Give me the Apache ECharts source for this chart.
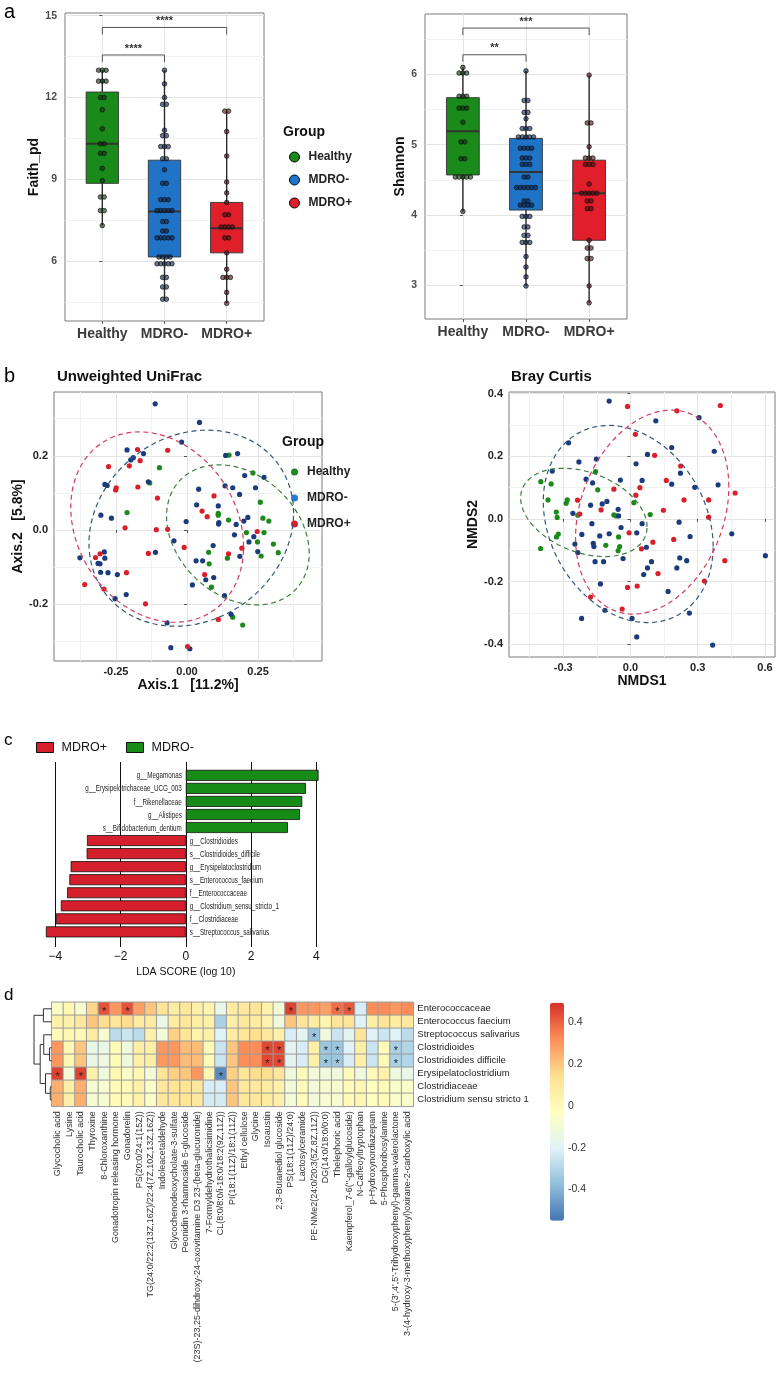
<!DOCTYPE html>
<html><head><meta charset="utf-8">
<script src="https://cdn.jsdelivr.net/npm/echarts@6/dist/echarts.min.js"></script>
<style>html,body{margin:0;padding:0;background:#fff}#c{width:780px;height:1400px}</style>
</head><body><div id="c"></div>
<script>
const SANS = "'Liberation Sans', Arial, Helvetica, sans-serif";

// ---------- panel a ----------
const groups = ['Healthy', 'MDRO-', 'MDRO+'];
const faithHealthy = [13.0,13.0,13.0,12.6,12.6,12.6,12.0,12.0,11.55,10.85,10.3,10.3,9.95,9.95,9.4,8.95,8.35,8.35,7.85,7.85,7.3];
const faithNeg = [13.0,12.5,12.0,11.75,11.75,10.8,10.6,10.6,10.2,10.2,10.2,9.75,9.75,9.35,8.85,8.85,8.25,8.25,8.25,7.85,7.85,7.85,7.85,7.85,7.45,7.45,7.1,7.1,6.85,6.85,6.85,6.85,6.85,6.15,6.15,6.15,6.15,5.9,5.9,5.9,5.9,5.9,5.4,5.4,5.05,5.05,4.6,4.6];
const faithPos = [11.5,11.5,10.75,9.85,8.9,8.5,8.15,7.7,7.7,7.25,7.25,7.25,7.25,6.85,6.85,6.3,5.7,5.4,5.4,5.4,4.85,4.45];
// [min, Q1, median, Q3, max]
const faithBox = [[7.3,8.85,10.3,12.2,13.0],[4.6,6.15,7.82,9.7,13.0],[4.45,6.3,7.2,8.15,11.5]];
const faithSig = [[0,1,13.56],[0,2,14.57]];
const faithSigText = ['****','****'];
const faithTicks = [6,9,12,15];
const faithMinor = [4.5,7.5,10.5,13.5];

const shanHealthy = [6.1,6.02,6.02,6.02,5.69,5.69,5.69,5.52,5.52,5.52,5.32,5.04,5.04,4.8,4.8,4.54,4.54,4.54,4.54,4.54,4.05];
const shanNeg = [6.05,5.63,5.63,5.46,5.46,5.37,5.23,5.23,5.23,5.11,5.11,5.11,5.11,5.11,4.95,4.95,4.95,4.95,4.81,4.81,4.81,4.72,4.72,4.72,4.54,4.54,4.39,4.39,4.39,4.39,4.39,4.39,4.2,4.2,4.14,4.14,4.14,4.14,3.98,3.98,3.98,3.83,3.83,3.71,3.71,3.61,3.61,3.61,3.41,3.26,3.12,2.99];
const shanPos = [5.99,5.31,5.31,4.97,4.81,4.81,4.81,4.72,4.72,4.72,4.44,4.31,4.31,4.31,4.31,4.31,4.2,4.2,4.09,4.09,3.64,3.53,3.53,3.38,3.38,2.99,2.75];
const shanBox = [[4.05,4.57,5.19,5.67,6.1],[2.99,4.07,4.61,5.09,6.05],[2.75,3.64,4.31,4.78,5.99]];
const shanSig = [[0,1,6.28],[0,2,6.66]];
const shanSigText = ['**','***'];
const shanTicks = [3,4,5,6];
const shanMinor = [2.5,3.5,4.5,5.5,6.5];

// ---------- panel b ----------
const uniHealthy = [[-0.097,0.168],[0.148,0.202],[0.232,0.154],[-0.131,0.127],[0.258,0.075],[0.110,0.045],[0.110,0.040],[-0.211,0.047],[0.146,0.027],[0.267,0.032],[0.288,0.024],[0.209,-0.007],[0.271,-0.007],[0.248,-0.032],[0.304,-0.038],[0.321,-0.061],[0.076,-0.060],[0.261,-0.070],[0.142,-0.076],[0.078,-0.091],[0.086,-0.154],[0.161,-0.235],[0.196,-0.256]];
const uniNeg = [[-0.112,0.340],[0.044,0.290],[-0.019,0.237],[-0.211,0.216],[-0.153,0.206],[-0.189,0.195],[-0.198,0.189],[0.136,0.201],[0.178,0.206],[0.203,0.147],[0.271,0.142],[-0.136,0.130],[-0.289,0.123],[-0.281,0.120],[0.041,0.110],[0.134,0.119],[0.161,0.114],[0.185,0.096],[0.241,0.114],[0.034,0.068],[0.110,0.065],[-0.303,0.040],[-0.266,0.032],[0.112,0.020],[0.111,0.016],[0.214,0.034],[0.200,0.024],[-0.003,0.023],[0.173,0.015],[0.167,-0.013],[0.235,-0.018],[-0.046,-0.029],[0.218,-0.032],[0.092,-0.042],[0.249,-0.058],[0.186,-0.071],[0.032,-0.083],[0.055,-0.083],[-0.111,-0.060],[-0.377,-0.075],[-0.291,-0.059],[-0.289,-0.076],[-0.313,-0.090],[-0.306,-0.091],[-0.304,-0.114],[-0.278,-0.115],[-0.245,-0.120],[0.066,-0.134],[0.094,-0.128],[0.019,-0.148],[-0.214,-0.174],[-0.253,-0.185],[0.132,-0.177],[0.155,-0.227],[-0.070,-0.250],[-0.057,-0.317],[0.010,-0.320]];
const uniPos = [[-0.068,0.215],[-0.174,0.217],[-0.165,0.187],[-0.203,0.173],[-0.276,0.171],[-0.249,0.114],[-0.251,0.108],[-0.173,0.116],[-0.104,0.086],[0.095,0.092],[0.053,0.051],[0.071,0.036],[-0.218,0.006],[-0.108,0.001],[-0.068,0.002],[0.247,-0.004],[-0.010,-0.047],[0.193,-0.049],[0.146,-0.064],[-0.136,-0.063],[-0.322,-0.074],[-0.306,-0.064],[-0.213,-0.115],[0.062,-0.120],[-0.360,-0.147],[-0.292,-0.159],[-0.146,-0.199],[0.110,-0.241],[0.002,-0.314]];
// ellipse: centre, conjugate semi-axis u, conjugate semi-axis v (Healthy, MDRO-, MDRO+)
const uniEllipses = [[0.179,-0.013,0.251,-0.050,0,0.182],[0.015,0.005,0.360,0.041,0,0.261],[-0.105,0.008,0.304,-0.053,0,0.251]];
const uniXTicks = [-0.25,0,0.25], uniYTicks = [-0.2,0,0.2];
const uniXMinor = [-0.375,-0.125,0.125,0.375], uniYMinor = [-0.3,-0.1,0.1,0.3];

const brayHealthy = [[-0.156,0.151],[-0.400,0.119],[-0.354,0.112],[-0.146,0.093],[-0.368,0.061],[-0.282,0.061],[-0.287,0.050],[0.015,0.052],[-0.331,0.022],[-0.327,0.005],[-0.235,0.012],[-0.074,0.013],[-0.065,0.010],[0.088,0.014],[-0.322,-0.048],[-0.330,-0.057],[-0.053,-0.057],[-0.401,-0.094],[-0.110,-0.084],[-0.048,-0.088],[-0.055,-0.101]];
const brayNeg = [[-0.095,0.376],[0.306,0.323],[0.113,0.313],[-0.276,0.243],[0.184,0.228],[0.374,0.216],[0.076,0.206],[-0.152,0.191],[-0.230,0.182],[0.025,0.176],[-0.349,0.153],[0.223,0.146],[-0.198,0.127],[-0.169,0.115],[-0.045,0.124],[0.052,0.123],[0.184,0.111],[0.287,0.101],[0.391,0.109],[-0.105,0.056],[-0.126,0.048],[-0.178,0.044],[-0.055,0.031],[-0.257,0.018],[-0.053,0.010],[-0.172,-0.015],[0.217,-0.010],[-0.042,-0.027],[0.052,-0.015],[-0.217,-0.049],[-0.137,-0.054],[-0.095,-0.047],[0.028,-0.044],[0.266,-0.056],[0.452,-0.047],[-0.248,-0.080],[-0.163,-0.088],[-0.166,-0.078],[0.071,-0.090],[-0.235,-0.107],[-0.033,-0.126],[-0.158,-0.136],[-0.120,-0.136],[0.094,-0.136],[0.220,-0.124],[0.251,-0.133],[0.602,-0.117],[0.076,-0.156],[0.059,-0.177],[0.207,-0.156],[-0.134,-0.207],[0.168,-0.231],[-0.114,-0.291],[0.263,-0.300],[-0.218,-0.317],[0.007,-0.317],[0.028,-0.376],[0.367,-0.402]];
const brayPos = [[-0.013,0.359],[0.207,0.345],[0.401,0.362],[0.022,0.270],[0.108,0.203],[0.224,0.169],[0.160,0.123],[-0.074,0.095],[0.042,0.100],[0.024,0.076],[0.467,0.083],[-0.236,0.060],[0.239,0.061],[0.349,0.061],[0.147,0.028],[-0.226,0.016],[-0.131,0.029],[0.349,0.006],[-0.006,-0.044],[0.193,-0.065],[0.100,-0.074],[0.049,-0.095],[0.421,-0.133],[0.123,-0.174],[0.330,-0.198],[-0.013,-0.218],[0.030,-0.214],[-0.178,-0.249],[-0.037,-0.287]];
const brayEllipses = [[-0.208,0.021,0.282,-0.046,0,0.133],[-0.010,-0.016,0.379,-0.072,0,0.306],[0.097,0.022,0.342,0.081,0,0.315]];
const brayXTicks = [-0.3,0,0.3,0.6], brayYTicks = [-0.4,-0.2,0,0.2,0.4];
const brayXMinor = [-0.45,-0.15,0.15,0.45], brayYMinor = [-0.3,-0.1,0.1,0.3];

// ---------- panel c ----------
const ldaTaxa = ['g__Megamonas','g__Erysipelotrichaceae_UCG_003','f__Rikenellaceae','g__Alistipes','s__Bifidobacterium_dentium','g__Clostridioides','s__Clostridioides_difficile','g__Erysipelatoclostridium','s__Enterococcus_faecium','f__Enterococcaceae','g__Clostridium_sensu_stricto_1','f__Clostridiaceae','s__Streptococcus_salivarius'];
const ldaScores = [4.07,3.68,3.57,3.50,3.13,-3.03,-3.04,-3.53,-3.57,-3.64,-3.83,-3.98,-4.29];
const ldaTicks = [-4,-2,0,2,4];

// ---------- panel d ----------
const metabolites = ['Glycocholic acid','Lysine','Taurocholic acid','Thyroxine','8-Chloroxanthine','Gonadotropin releasing hormone','Gonadorelin','PS(20:0/24:1(15Z))','TG(24:0/22:2(13Z,16Z)/22:4(7Z,10Z,13Z,16Z))','Indoleacetaldehyde','Glycochenodeoxycholate-3-sulfate','Peonidin 3-rhamnoside 5-glucoside','(23S)-23,25-dihdroxy-24-oxovitamine D3 23-(beta-glucuronide)','7-Formyldehydrothalicsimidine','CL(8:0/8:0/i-18:0/18:2(9Z,11Z))','PI(18:1(11Z)/18:1(11Z))','Ethyl cellulose','Glycine','Isoaustin','2,3-Butanediol glucoside','PS(18:1(11Z)/24:0)','Lactosylceramide','PE-NMe2(24:0/20:3(5Z,8Z,11Z))','DG(14:0/18:0/0:0)','Thelephoric acid',"Kaempferol_7-6(''-galloylglucoside)",'N-Caffeoyltryptophan','p-Hydroxynordiazepam','5-Phosphoribosylamine',"5-(3',4',5'-Trihydroxyphenyl)-gamma-valerolactone",'3-(4-hydroxy-3-methoxyphenyl)oxirane-2-carboxylic acid'];
const taxa = ['Enterococcaceae','Enterococcus faecium','Streptococcus salivarius','Clostridioides','Clostridioides difficile','Erysipelatoclostridium','Clostridiaceae','Clostridium sensu stricto 1'];
const corEnterococcaceae = [-0.05,0.02,-0.08,0.17,0.43,0.3,0.43,0.28,0.2,0.12,0.08,0.1,0.06,0.04,-0.15,0.08,0.1,0.12,0.05,-0.1,0.46,0.3,0.3,0.28,0.38,0.42,-0.22,0.32,0.32,0.3,0.32];
const corEfaecium = [0.05,0.05,0.1,0.2,0.15,0.12,0.15,0.08,0.08,-0.15,0.08,0.1,0.06,0.05,-0.32,0.06,0.1,0.08,0.04,-0.12,0.2,0.12,0.08,0.03,0.12,0.12,-0.2,0.06,0.12,0.08,0.1];
const corSsalivarius = [0.0,0.02,0.0,0.08,-0.08,-0.28,-0.25,-0.28,0.05,-0.1,0.18,0.12,0.04,0.06,-0.2,0.08,0.12,0.15,0.1,0.05,-0.22,-0.18,-0.36,-0.12,-0.25,-0.18,0.12,-0.2,-0.25,-0.2,-0.28];
const corClostridioides = [0.3,0.02,0.2,-0.15,-0.15,0.0,-0.12,0.06,0.06,0.3,0.3,0.22,0.22,0.0,-0.25,0.2,0.32,0.32,0.45,0.45,-0.18,-0.22,0.05,-0.35,-0.35,-0.2,0.06,-0.25,0.0,-0.32,-0.3];
const corCdifficile = [0.3,0.02,0.2,-0.14,-0.13,0.0,-0.12,0.05,0.06,0.3,0.3,0.22,0.22,0.0,-0.25,0.2,0.32,0.32,0.45,0.45,-0.18,-0.22,0.05,-0.35,-0.35,-0.22,0.05,-0.25,0.0,-0.32,-0.3];
const corErysipelato = [0.46,-0.1,0.46,0.05,-0.12,0.02,-0.05,0.02,-0.1,0.12,0.18,0.2,0.3,0.02,-0.5,0.18,0.12,0.15,0.15,0.12,-0.12,0.0,-0.1,-0.12,-0.12,0.0,-0.12,0.0,0.05,-0.12,-0.15];
const corClostridiaceae = [0.25,0.06,0.25,-0.08,-0.08,0.0,0.0,0.05,-0.05,0.1,0.12,0.12,0.1,-0.22,-0.22,0.2,0.1,0.1,0.08,0.05,-0.1,0.0,-0.1,-0.08,-0.08,0.0,0.02,-0.03,0.0,-0.06,-0.06];
const corCsensu = [0.25,0.06,0.25,-0.08,-0.08,0.0,0.0,0.05,-0.05,0.1,0.12,0.12,0.1,-0.23,-0.23,0.2,0.1,0.1,0.08,0.05,-0.1,0.0,-0.1,-0.08,-0.08,0.0,0.02,-0.03,0.0,-0.06,-0.06];
const sigCells = [[0,4],[0,6],[0,20],[0,24],[0,25],[2,22],[3,18],[3,19],[3,23],[3,24],[3,29],[4,18],[4,19],[4,23],[4,24],[4,29],[5,0],[5,2],[5,14]];
// dendrogram merges (node ids: leaves 0-7, merges 8+)
const dendroA = [3,6,5,2,11,0,13];
const dendroB = [4,7,9,8,10,1,12];
const dendroH = [0.12,0.08,0.35,0.45,0.65,0.47,1.0];
const colorTicks = [-0.4,-0.2,0,0.2,0.4];

// ---------- styles ----------
const boxFill = ['#1a8a1a','#1f74c8','#e11f2b'];
const dotFill = ['rgba(8,45,8,0.6)','rgba(8,28,70,0.6)','rgba(70,8,12,0.6)'];
const bPoint = ['#1b8a1b','#1b3c7c','#db1f2a'];
const ellipseCol = ['#3c7f3c','#34567e','#cf3c5c'];
const heatColors = ['#4575B4','#91BFDB','#E0F3F8','#FFFFBF','#FEE090','#FC8D59','#D73027'];

function dodge(values, gi, step) {
  const counts = {}, seen = {};
  values.forEach(v => counts[v] = (counts[v] || 0) + 1);
  return values.map(v => {
    const k = counts[v];
    const i = seen[v] = (seen[v] === undefined ? 0 : seen[v] + 1);
    return [gi + (i - (k - 1) / 2) * step, v];
  });
}

function boxRender(params, api) {
  const x = api.value(0);
  const pMin = api.coord([x, api.value(1)]), pQ1 = api.coord([x, api.value(2)]),
        pMed = api.coord([x, api.value(3)]), pQ3 = api.coord([x, api.value(4)]),
        pMax = api.coord([x, api.value(5)]);
  const hw = api.size([0.52, 0])[0] / 2;
  return {type: 'group', children: [
    {type: 'line', shape: {x1: pMin[0], y1: pMin[1], x2: pQ1[0], y2: pQ1[1]}, style: {stroke: '#2b2b2b', lineWidth: 1.4}},
    {type: 'line', shape: {x1: pQ3[0], y1: pQ3[1], x2: pMax[0], y2: pMax[1]}, style: {stroke: '#2b2b2b', lineWidth: 1.4}},
    {type: 'rect', shape: {x: pQ3[0] - hw, y: pQ3[1], width: 2 * hw, height: pQ1[1] - pQ3[1]}, style: {fill: boxFill[params.dataIndex], stroke: '#333', lineWidth: 0.9}},
    {type: 'line', shape: {x1: pMed[0] - hw, y1: pMed[1], x2: pMed[0] + hw, y2: pMed[1]}, style: {stroke: '#333', lineWidth: 2}}
  ]};
}
function sigRender(texts) {
  return function (params, api) {
    const y = api.value(2);
    const p1 = api.coord([api.value(0), y]), p2 = api.coord([api.value(1), y]);
    return {type: 'group', children: [
      {type: 'polyline', shape: {points: [[p1[0], p1[1] + 7], [p1[0], p1[1]], [p2[0], p2[1]], [p2[0], p2[1] + 7]]}, style: {stroke: '#555', lineWidth: 1, fill: 'none'}},
      {type: 'text', style: {text: texts[params.dataIndex], x: (p1[0] + p2[0]) / 2, y: p1[1] - 1, align: 'center', verticalAlign: 'bottom', font: 'bold 11px ' + SANS, fill: '#333'}}
    ]};
  };
}
function ellipseRender(params, api) {
  const cx = api.value(0), cy = api.value(1), ux = api.value(2), uy = api.value(3), vx = api.value(4), vy = api.value(5);
  const pts = [];
  for (let k = 0; k <= 120; k++) {
    const t = k / 120 * 2 * Math.PI;
    pts.push(api.coord([cx + ux * Math.cos(t) + vx * Math.sin(t), cy + uy * Math.cos(t) + vy * Math.sin(t)]));
  }
  return {type: 'polyline', shape: {points: pts}, style: {stroke: ellipseCol[params.dataIndex], fill: 'none', lineWidth: 1.2, lineDash: [5, 3.5]}};
}
function ldaLabelRender(params, api) {
  const v = api.value(0);
  const p = api.coord([0, api.value(1)]);
  const pos = v > 0;
  return {type: 'text', x: p[0] + (pos ? -4 : 4), y: p[1] + 0.5, scaleX: 0.66,
    style: {text: ldaTaxa[params.dataIndex], x: 0, y: 0, align: pos ? 'right' : 'left', verticalAlign: 'middle', font: '9.5px ' + SANS, fill: '#222'}};
}

// dendrogram segments
const nodeY = taxa.map((t, i) => i), nodeH = taxa.map(() => 0);
const dendroSegs = dendroA.map((a, i) => {
  const b = dendroB[i], id = taxa.length + i;
  nodeY[id] = (nodeY[a] + nodeY[b]) / 2; nodeH[id] = dendroH[i];
  return [nodeH[a], nodeY[a], dendroH[i], nodeH[b], nodeY[b]];
});

const corRows = [corEnterococcaceae, corEfaecium, corSsalivarius, corClostridioides, corCdifficile, corErysipelato, corClostridiaceae, corCsensu];
const heatData = [];
corRows.forEach((row, r) => row.forEach((v, c) => heatData.push([c, r, v])));
const sigSet = new Set(sigCells.map(s => s[0] + '-' + s[1]));

const gridLine = {show: true, lineStyle: {color: '#e4e4e4', width: 1}};
const minorLine = {show: true, lineStyle: {color: '#f1f1f1', width: 1}};
const tickLbl = {fontSize: 10.5, fontWeight: 'bold', color: '#4d4d4d'};
const bLbl = {fontSize: 11, fontWeight: 'bold', color: '#222'};
const axTitle = {fontSize: 14, fontWeight: 'bold', color: '#111'};

function minorAxis(grid, min, max, vals, pos) {
  return {gridIndex: grid, type: 'value', min: min, max: max, position: pos,
    axisLine: {show: false}, axisTick: {show: false, customValues: vals},
    axisLabel: {show: false, customValues: vals}, splitLine: minorLine};
}
function hiddenAxis(grid, o) {
  return Object.assign({gridIndex: grid, type: 'value', show: false}, o);
}

const xAxis = [
  {gridIndex: 0, type: 'value', min: -0.6, max: 2.6, axisLine: {show: false},
   axisTick: {show: true, length: 3, lineStyle: {color: '#555'}, customValues: [0, 1, 2]},
   axisLabel: {customValues: [0, 1, 2], formatter: v => groups[Math.round(v)], fontSize: 14, fontWeight: 'bold', color: '#3a3a3a', margin: 6},
   splitLine: gridLine},
  {gridIndex: 1, type: 'value', min: -0.6, max: 2.6, axisLine: {show: false},
   axisTick: {show: true, length: 3, lineStyle: {color: '#555'}, customValues: [0, 1, 2]},
   axisLabel: {customValues: [0, 1, 2], formatter: v => groups[Math.round(v)], fontSize: 14, fontWeight: 'bold', color: '#3a3a3a', margin: 6},
   splitLine: gridLine},
  {gridIndex: 2, type: 'value', min: -0.468, max: 0.475, axisLine: {show: false},
   axisTick: {show: true, length: 3, lineStyle: {color: '#555'}, customValues: uniXTicks},
   axisLabel: Object.assign({customValues: uniXTicks, formatter: v => v.toFixed(2), margin: 5}, bLbl),
   splitLine: gridLine, name: 'Axis.1   [11.2%]', nameLocation: 'middle', nameGap: 12, nameTextStyle: axTitle},
  minorAxis(2, -0.468, 0.475, uniXMinor, 'top'),
  {gridIndex: 3, type: 'value', min: -0.542, max: 0.645, axisLine: {show: false},
   axisTick: {show: true, length: 3, lineStyle: {color: '#555'}, customValues: brayXTicks},
   axisLabel: Object.assign({customValues: brayXTicks, formatter: v => v.toFixed(1), margin: 5}, bLbl),
   splitLine: gridLine, name: 'NMDS1', nameLocation: 'middle', nameGap: 12, nameTextStyle: axTitle},
  minorAxis(3, -0.542, 0.645, brayXMinor, 'top'),
  {gridIndex: 4, type: 'value', min: -4.5, max: 4.5, axisLine: {show: false}, axisTick: {show: false, customValues: ldaTicks},
   axisLabel: {customValues: ldaTicks, formatter: v => v < 0 ? '\u2212' + (-v) : String(v), fontSize: 12, color: '#111', margin: 4},
   splitLine: {show: true, lineStyle: {color: '#111', width: 1}},
   name: 'LDA SCORE (log 10)', nameLocation: 'middle', nameGap: 20, nameTextStyle: {fontSize: 10.5, color: '#111'}},
  hiddenAxis(5, {min: -4.5, max: 4.5}),
  {gridIndex: 6, type: 'category', data: metabolites, axisLine: {show: false}, axisTick: {show: false}, splitLine: {show: false},
   axisLabel: {rotate: 90, interval: 0, fontSize: 9, color: '#333', margin: 5}},
  hiddenAxis(7, {min: 0, max: 1, inverse: true}),
  hiddenAxis(8, {min: 0, max: 1})
];
const yAxis = [
  {gridIndex: 0, type: 'value', min: 3.8, max: 15.1, axisLine: {show: false},
   axisTick: {show: true, length: 3, lineStyle: {color: '#555'}, customValues: faithTicks},
   axisLabel: Object.assign({customValues: faithTicks, margin: 8}, tickLbl), splitLine: gridLine,
   name: 'Faith_pd', nameLocation: 'middle', nameGap: 18, nameTextStyle: axTitle},
  minorAxis(0, 3.8, 15.1, faithMinor, 'right'),
  {gridIndex: 1, type: 'value', min: 2.52, max: 6.86, axisLine: {show: false},
   axisTick: {show: true, length: 3, lineStyle: {color: '#555'}, customValues: shanTicks},
   axisLabel: Object.assign({customValues: shanTicks, margin: 8}, tickLbl), splitLine: gridLine,
   name: 'Shannon', nameLocation: 'middle', nameGap: 12, nameTextStyle: axTitle},
  minorAxis(1, 2.52, 6.86, shanMinor, 'right'),
  {gridIndex: 2, type: 'value', min: -0.353, max: 0.372, axisLine: {show: false},
   axisTick: {show: true, length: 3, lineStyle: {color: '#555'}, customValues: uniYTicks},
   axisLabel: Object.assign({customValues: uniYTicks, formatter: v => v.toFixed(1), margin: 6}, bLbl), splitLine: gridLine,
   name: 'Axis.2   [5.8%]', nameLocation: 'middle', nameGap: 28, nameTextStyle: axTitle},
  minorAxis(2, -0.353, 0.372, uniYMinor, 'right'),
  {gridIndex: 3, type: 'value', min: -0.44, max: 0.405, axisLine: {show: false},
   axisTick: {show: true, length: 3, lineStyle: {color: '#555'}, customValues: brayYTicks},
   axisLabel: Object.assign({customValues: brayYTicks, formatter: v => v.toFixed(1), margin: 6}, bLbl), splitLine: gridLine,
   name: 'NMDS2', nameLocation: 'middle', nameGap: 29, nameTextStyle: axTitle},
  minorAxis(3, -0.44, 0.405, brayYMinor, 'right'),
  hiddenAxis(4, {min: 0, max: 1}),
  {gridIndex: 5, type: 'category', data: ldaTaxa, inverse: true, show: false},
  {gridIndex: 6, type: 'category', data: taxa, inverse: true, position: 'right', axisLine: {show: false}, axisTick: {show: false},
   splitLine: {show: false}, axisLabel: {interval: 0, fontSize: 9.5, color: '#222', margin: 4}},
  hiddenAxis(7, {min: -0.5, max: 7.5, inverse: true}),
  {gridIndex: 8, type: 'value', min: -0.549, max: 0.494, position: 'right', axisLine: {show: false},
   axisTick: {show: false, customValues: colorTicks}, splitLine: {show: false},
   axisLabel: {customValues: colorTicks, formatter: v => v === 0 ? '0' : String(v), fontSize: 10.5, color: '#333', margin: 4}}
];

const frame = {show: true, borderColor: '#7a7a7a', borderWidth: 1, backgroundColor: 'transparent'};
const grid = [
  Object.assign({left: 65, top: 13, width: 199, height: 308}, frame),
  Object.assign({left: 425, top: 14, width: 202, height: 305}, frame),
  Object.assign({left: 54, top: 392, width: 268, height: 269}, frame),
  Object.assign({left: 509, top: 392, width: 266, height: 265}, frame),
  {left: 39, top: 762, width: 293.6, height: 185},
  {left: 39, top: 768.8, width: 293.6, height: 169.6},
  {left: 51.7, top: 1002.3, width: 361.6, height: 104},
  {left: 34, top: 1002.3, width: 17.7, height: 104},
  {left: 550, top: 1002.7, width: 14, height: 218}
];

function dotSeries(name, values, gi, xi, yi) {
  return {type: 'scatter', name: name, xAxisIndex: xi, yAxisIndex: yi, data: dodge(values, gi, 0.06),
    symbolSize: 4.6, itemStyle: {color: dotFill[gi], borderColor: '#111', borderWidth: 0.7, opacity: 1}, z: 3, silent: true};
}
function pcoaSeries(name, pts, gi, xi, yi) {
  return {type: 'scatter', name: name, xAxisIndex: xi, yAxisIndex: yi, data: pts, symbolSize: 5.2,
    itemStyle: {color: bPoint[gi], opacity: 1}, z: 3, silent: true};
}

const series = [
  {type: 'custom', xAxisIndex: 0, yAxisIndex: 0, data: faithBox.map((s, i) => [i].concat(s)), renderItem: boxRender, z: 2, silent: true},
  dotSeries('Healthy', faithHealthy, 0, 0, 0),
  dotSeries('MDRO-', faithNeg, 1, 0, 0),
  dotSeries('MDRO+', faithPos, 2, 0, 0),
  {type: 'custom', xAxisIndex: 0, yAxisIndex: 0, data: faithSig, renderItem: sigRender(faithSigText), z: 4, silent: true},
  {type: 'custom', xAxisIndex: 1, yAxisIndex: 2, data: shanBox.map((s, i) => [i].concat(s)), renderItem: boxRender, z: 2, silent: true},
  dotSeries('Healthy', shanHealthy, 0, 1, 2),
  dotSeries('MDRO-', shanNeg, 1, 1, 2),
  dotSeries('MDRO+', shanPos, 2, 1, 2),
  {type: 'custom', xAxisIndex: 1, yAxisIndex: 2, data: shanSig, renderItem: sigRender(shanSigText), z: 4, silent: true},
  pcoaSeries('Healthy', uniHealthy, 0, 2, 4),
  pcoaSeries('MDRO-', uniNeg, 1, 2, 4),
  pcoaSeries('MDRO+', uniPos, 2, 2, 4),
  {type: 'custom', xAxisIndex: 2, yAxisIndex: 4, data: uniEllipses, renderItem: ellipseRender, z: 4, silent: true},
  pcoaSeries('Healthy', brayHealthy, 0, 4, 6),
  pcoaSeries('MDRO-', brayNeg, 1, 4, 6),
  pcoaSeries('MDRO+', brayPos, 2, 4, 6),
  {type: 'custom', xAxisIndex: 4, yAxisIndex: 6, data: brayEllipses, renderItem: ellipseRender, z: 4, silent: true},
  {type: 'scatter', xAxisIndex: 6, yAxisIndex: 8, data: [], silent: true},
  {type: 'bar', name: 'MDRO-', xAxisIndex: 7, yAxisIndex: 9, stack: 'lda', barWidth: 11,
   data: ldaScores.map(v => v > 0 ? v : '-'),
   itemStyle: {color: '#168c16', borderColor: '#111', borderWidth: 0.8}, silent: true},
  {type: 'bar', name: 'MDRO+', xAxisIndex: 7, yAxisIndex: 9, stack: 'lda', barWidth: 11,
   data: ldaScores.map(v => v < 0 ? v : '-'),
   itemStyle: {color: '#d61f2c', borderColor: '#111', borderWidth: 0.8}, silent: true},
  {type: 'heatmap', xAxisIndex: 8, yAxisIndex: 10, data: heatData,
   itemStyle: {borderColor: '#9c9c9c', borderWidth: 1},
   label: {show: true, formatter: p => sigSet.has(p.value[1] + '-' + p.value[0]) ? '*' : '', fontSize: 11, color: '#222', offset: [0, 3]},
   emphasis: {disabled: true}, silent: true},
  {type: 'custom', xAxisIndex: 9, yAxisIndex: 11, data: dendroSegs, silent: true,
   renderItem: (params, api) => {
     const a = api.coord([api.value(0), api.value(1)]), t = api.coord([api.value(2), api.value(1)]);
     const u = api.coord([api.value(2), api.value(4)]), b = api.coord([api.value(3), api.value(4)]);
     return {type: 'polyline', shape: {points: [a, t, u, b]}, style: {stroke: '#333', lineWidth: 1, fill: 'none'}};
   }},
  {type: 'scatter', xAxisIndex: 10, yAxisIndex: 12, data: [], silent: true},
  {type: 'custom', xAxisIndex: 7, yAxisIndex: 9, data: ldaScores.map((v, i) => [v, i]), renderItem: ldaLabelRender, z: 5, silent: true}
];

const title = [
  {text: 'a', left: 4, top: 2, padding: 0, textStyle: {fontSize: 20, fontWeight: 'normal', color: '#000'}},
  {text: 'Group', left: 283, top: 125, padding: 0, textStyle: {fontSize: 14, fontWeight: 'bold', color: '#111'}},
  {text: 'b', left: 4, top: 366, padding: 0, textStyle: {fontSize: 20, fontWeight: 'normal', color: '#000'}},
  {text: 'Unweighted UniFrac', left: 57, top: 369, padding: 0, textStyle: {fontSize: 15, fontWeight: 'bold', color: '#111'}},
  {text: 'Bray Curtis', left: 511, top: 369, padding: 0, textStyle: {fontSize: 15, fontWeight: 'bold', color: '#111'}},
  {text: 'Group', left: 282, top: 435, padding: 0, textStyle: {fontSize: 14, fontWeight: 'bold', color: '#111'}},
  {text: 'c', left: 4, top: 732, padding: 0, textStyle: {fontSize: 17, fontWeight: 'normal', color: '#000'}},
  {text: 'd', left: 4, top: 987, padding: 0, textStyle: {fontSize: 17, fontWeight: 'normal', color: '#000'}}
];

const legend = [
  {left: 289, top: 151, orient: 'vertical', itemGap: 11, itemWidth: 10, itemHeight: 10, icon: 'circle', selectedMode: false, padding: 0,
   textStyle: {fontSize: 12, fontWeight: 'bold', color: '#222', padding: [0, 0, 0, 4]},
   data: groups.map((g, i) => ({name: g, itemStyle: {color: boxFill[i], borderColor: '#000', borderWidth: 1, opacity: 1}}))},
  {left: 291, top: 466, orient: 'vertical', itemGap: 14, itemWidth: 7, itemHeight: 7, icon: 'circle', selectedMode: false, padding: 0,
   textStyle: {fontSize: 12, fontWeight: 'bold', color: '#222', padding: [0, 0, 0, 4]},
   data: groups.map((g, i) => ({name: g, itemStyle: {color: ['#1b8a1b', '#2479d6', '#db1f2a'][i], borderWidth: 0, opacity: 1}}))},
  {left: 36, top: 741, orient: 'horizontal', itemGap: 19, itemWidth: 17, itemHeight: 10, icon: 'rect', selectedMode: false, padding: 0,
   textStyle: {fontSize: 12.5, color: '#111', padding: [0, 0, 0, 3]},
   data: [{name: 'MDRO+', itemStyle: {color: '#d61f2c', borderColor: '#111', borderWidth: 1}},
          {name: 'MDRO-', itemStyle: {color: '#168c16', borderColor: '#111', borderWidth: 1}}]}
];

const chart = echarts.init(document.getElementById('c'), null, {renderer: 'canvas'});
chart.setOption({
  animation: false,
  backgroundColor: '#fff',
  textStyle: {fontFamily: SANS},
  title: title,
  legend: legend,
  grid: grid,
  xAxis: xAxis,
  yAxis: yAxis,
  visualMap: {type: 'continuous', seriesIndex: 21, min: -0.549, max: 0.494, inRange: {color: heatColors},
    left: 550, top: 1002.7, itemWidth: 14, itemHeight: 218, calculable: false, text: null, padding: 0, showLabel: false, hoverLink: false},
  series: series
});
</script></body></html>
